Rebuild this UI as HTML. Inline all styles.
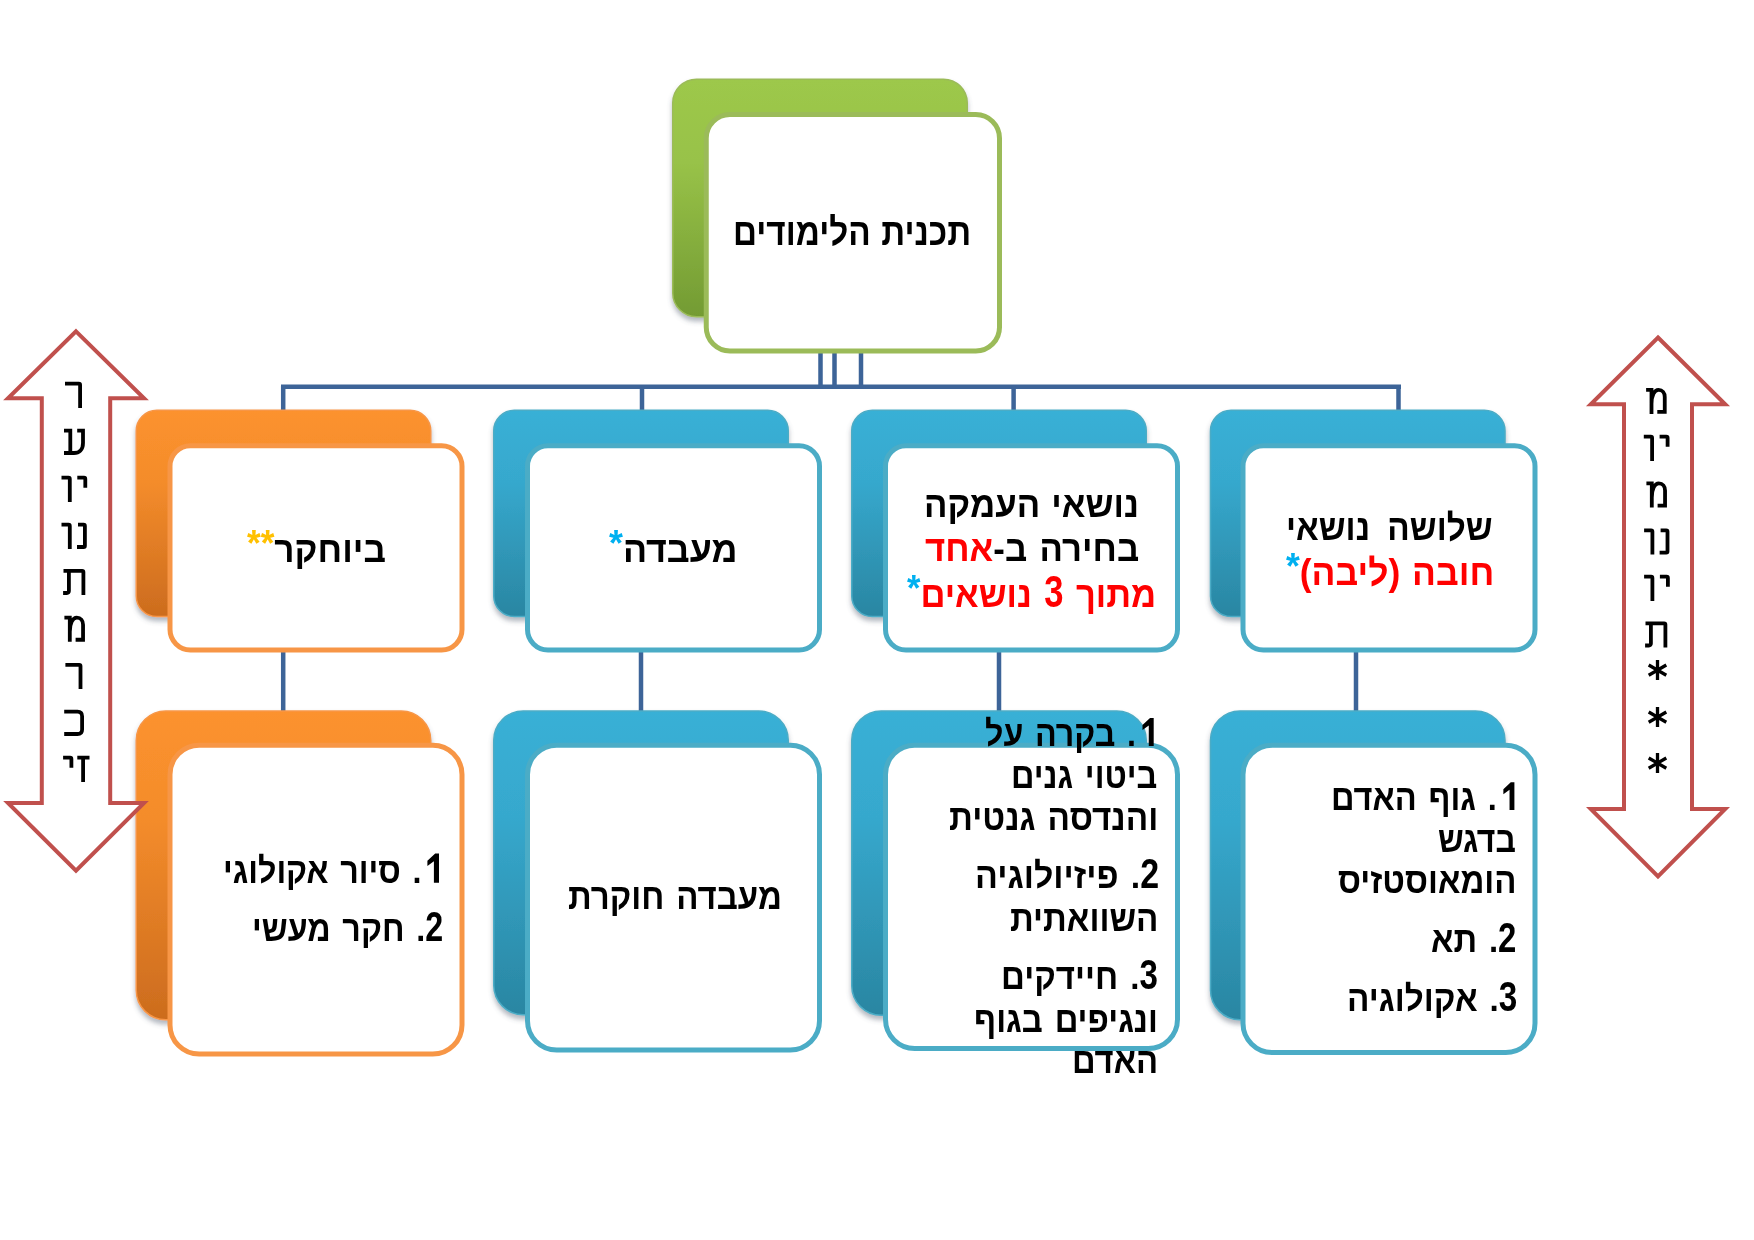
<!DOCTYPE html><html lang="he"><head><meta charset="utf-8"><title>תכנית הלימודים</title><style>html,body{margin:0;padding:0;background:#fff}
body{width:1754px;height:1240px;position:relative;overflow:hidden;font-family:"Liberation Sans",sans-serif}
.ln{position:absolute;direction:rtl;unicode-bidi:isolate;white-space:pre;color:#000;transform-origin:0 0}
.red{color:#FF0000}.lb{color:#00B0F0}.yl{color:#FFC000}.up{position:relative;top:-6px}.dg{display:inline-block;line-height:0.693em;transform-origin:50% 100%;transform:scaleY(1.19)}.one{color:transparent}</style></head><body>
<svg width="1754" height="1240" viewBox="0 0 1754 1240" style="position:absolute;left:0;top:0">
<defs>
<linearGradient id="gG" x1="0" y1="0" x2="0" y2="1"><stop offset="0" stop-color="#9DC84B"/><stop offset="0.35" stop-color="#98C248"/><stop offset="1" stop-color="#739B33"/></linearGradient>
<linearGradient id="gO" x1="0" y1="0" x2="0" y2="1"><stop offset="0" stop-color="#FC922E"/><stop offset="0.35" stop-color="#F48C2B"/><stop offset="1" stop-color="#CC6C1E"/></linearGradient>
<linearGradient id="gB" x1="0" y1="0" x2="0" y2="1"><stop offset="0" stop-color="#39B0D6"/><stop offset="0.35" stop-color="#36A8CD"/><stop offset="1" stop-color="#2A86A2"/></linearGradient>
<filter id="sh" x="-20%" y="-20%" width="140%" height="140%"><feGaussianBlur in="SourceAlpha" stdDeviation="2.8"/><feOffset dx="-0.5" dy="3.5" result="o"/><feFlood flood-color="#4a5568" flood-opacity="0.42"/><feComposite in2="o" operator="in"/><feMerge><feMergeNode/><feMergeNode in="SourceGraphic"/></feMerge></filter>
</defs>
<rect x="281.00" y="384.50" width="1120.00" height="4.5" fill="#3D6498"/>
<rect x="818.25" y="350.00" width="4.5" height="39.00" fill="#3D6498"/>
<rect x="832.25" y="350.00" width="4.5" height="39.00" fill="#3D6498"/>
<rect x="858.75" y="350.00" width="4.5" height="39.00" fill="#3D6498"/>
<rect x="280.95" y="386.00" width="4.5" height="26.00" fill="#3D6498"/>
<rect x="639.75" y="386.00" width="4.5" height="26.00" fill="#3D6498"/>
<rect x="1011.35" y="386.00" width="4.5" height="26.00" fill="#3D6498"/>
<rect x="1396.25" y="386.00" width="4.5" height="26.00" fill="#3D6498"/>
<rect x="280.95" y="650.00" width="4.5" height="62.00" fill="#3D6498"/>
<rect x="638.75" y="650.00" width="4.5" height="62.00" fill="#3D6498"/>
<rect x="996.75" y="650.00" width="4.5" height="62.00" fill="#3D6498"/>
<rect x="1353.75" y="650.00" width="4.5" height="62.00" fill="#3D6498"/>
<rect x="672.75" y="79.15" width="294.50" height="237.60" rx="23.8" fill="url(#gG)" stroke="#9BBB59" stroke-width="1.5" filter="url(#sh)"/>
<rect x="706.25" y="114.50" width="293.25" height="236.50" rx="23.7" fill="#fff" stroke="#9BBB59" stroke-width="5"/>
<rect x="136.25" y="410.35" width="294.50" height="206.20" rx="20.6" fill="url(#gO)" stroke="#F79646" stroke-width="1.5" filter="url(#sh)"/>
<rect x="170.00" y="445.75" width="292.00" height="204.25" rx="20.4" fill="#fff" stroke="#F79646" stroke-width="5"/>
<rect x="493.75" y="410.35" width="294.50" height="206.20" rx="20.6" fill="url(#gB)" stroke="#4BACC6" stroke-width="1.5" filter="url(#sh)"/>
<rect x="527.50" y="445.75" width="292.00" height="204.25" rx="20.4" fill="#fff" stroke="#4BACC6" stroke-width="5"/>
<rect x="851.75" y="410.35" width="294.50" height="206.20" rx="20.6" fill="url(#gB)" stroke="#4BACC6" stroke-width="1.5" filter="url(#sh)"/>
<rect x="885.50" y="445.75" width="292.00" height="204.25" rx="20.4" fill="#fff" stroke="#4BACC6" stroke-width="5"/>
<rect x="1210.50" y="410.35" width="294.50" height="206.20" rx="20.6" fill="url(#gB)" stroke="#4BACC6" stroke-width="1.5" filter="url(#sh)"/>
<rect x="1243.00" y="445.75" width="292.00" height="204.25" rx="20.4" fill="#fff" stroke="#4BACC6" stroke-width="5"/>
<rect x="136.25" y="710.95" width="294.50" height="308.80" rx="29.5" fill="url(#gO)" stroke="#F79646" stroke-width="1.5" filter="url(#sh)"/>
<rect x="170.00" y="745.30" width="292.00" height="308.80" rx="29.2" fill="#fff" stroke="#F79646" stroke-width="5"/>
<rect x="493.75" y="710.95" width="294.50" height="303.80" rx="29.5" fill="url(#gB)" stroke="#4BACC6" stroke-width="1.5" filter="url(#sh)"/>
<rect x="527.50" y="745.30" width="292.00" height="304.70" rx="29.2" fill="#fff" stroke="#4BACC6" stroke-width="5"/>
<rect x="851.75" y="710.95" width="294.50" height="304.30" rx="29.5" fill="url(#gB)" stroke="#4BACC6" stroke-width="1.5" filter="url(#sh)"/>
<rect x="885.50" y="745.30" width="292.00" height="303.20" rx="29.2" fill="#fff" stroke="#4BACC6" stroke-width="5"/>
<rect x="1210.50" y="710.95" width="294.50" height="308.80" rx="29.5" fill="url(#gB)" stroke="#4BACC6" stroke-width="1.5" filter="url(#sh)"/>
<rect x="1243.00" y="745.30" width="292.00" height="307.20" rx="29.2" fill="#fff" stroke="#4BACC6" stroke-width="5"/>
<polygon points="76.00,331.40 144.00,398.20 110.20,398.20 110.20,802.90 144.00,802.90 76.00,870.70 8.00,802.90 41.80,802.90 41.80,398.20 8.00,398.20" fill="#fff" stroke="#C0504D" stroke-width="4" stroke-linejoin="miter" stroke-miterlimit="10"/>
<polygon points="1658.00,337.50 1725.20,404.30 1692.00,404.30 1692.00,808.90 1725.20,808.90 1658.00,876.50 1590.80,808.90 1624.00,808.90 1624.00,404.30 1590.80,404.30" fill="#fff" stroke="#C0504D" stroke-width="4" stroke-linejoin="miter" stroke-miterlimit="10"/>
<path d="M1657.50 660.10V680.10M1648.70 665.00L1666.30 675.20M1666.30 665.00L1648.70 675.20" stroke="#000" stroke-width="3.3" fill="none"/>
<path d="M1657.50 707.10V727.10M1648.70 712.00L1666.30 722.20M1666.30 712.00L1648.70 722.20" stroke="#000" stroke-width="3.3" fill="none"/>
<path d="M1657.50 753.10V773.10M1648.70 758.00L1666.30 768.20M1666.30 758.00L1648.70 768.20" stroke="#000" stroke-width="3.3" fill="none"/>
<path transform="translate(65.0,407.9)" d="M0,-24.3H13.8Q15.1,-24.3 15.1,-23V0" stroke="#000" stroke-width="3.8" fill="none"/>
<path transform="translate(64.0,454.9)" d="M0,-24.2H6.3V-1.9M0,-1.9H10C15,-1.9 19,-5 19,-12V-24.2H13.2" stroke="#000" stroke-width="3.8" fill="none"/>
<path transform="translate(61.5,501.9)" d="M0,-24.2H7Q8.3,-24.2 8.3,-22.9V0M15.8,-24.2H22.5Q23.8,-24.2 23.8,-22.9V-14.2" stroke="#000" stroke-width="3.8" fill="none"/>
<path transform="translate(61.5,548.9)" d="M0,-24.2H7Q8.3,-24.2 8.3,-22.9V0M16.5,-24.2H22.1Q23.4,-24.2 23.4,-22.9V-3.2Q23.4,-1.9 22.1,-1.9H15.5" stroke="#000" stroke-width="3.8" fill="none"/>
<path transform="translate(63.1,595.1)" d="M0.4,-24.3H19Q20.3,-24.3 20.3,-23V0M5.8,-24.3V-4.1Q5.8,-2.1 3.8,-2.1H0" stroke="#000" stroke-width="3.8" fill="none"/>
<path transform="translate(64.4,641.7)" d="M0,-24.1H5.4V0M5.4,-10C5.4,-19 8.4,-24.05 12.4,-24.05C16.4,-24.05 18.65,-21 18.65,-17V-1.95H11.2" stroke="#000" stroke-width="3.8" fill="none"/>
<path transform="translate(65.4,689.1)" d="M0,-24.3H13.8Q15.1,-24.3 15.1,-23V0" stroke="#000" stroke-width="3.8" fill="none"/>
<path transform="translate(64.2,735.9)" d="M0,-24.2H13.3Q17.9,-24.2 17.9,-19.6V-6.5Q17.9,-1.9 13.3,-1.9H0" stroke="#000" stroke-width="3.8" fill="none"/>
<path transform="translate(63.1,781.9)" d="M0,-24.2H7Q8.3,-24.2 8.3,-22.9V-14.1M14.2,-24.2H26.4M20,-24.2V0" stroke="#000" stroke-width="3.8" fill="none"/>
<path transform="translate(1646.1,413.9)" d="M0,-24.1H5.4V0M5.4,-10C5.4,-19 8.4,-24.05 12.4,-24.05C16.4,-24.05 18.65,-21 18.65,-17V-1.95H11.2" stroke="#000" stroke-width="3.8" fill="none"/>
<path transform="translate(1643.8,460.9)" d="M0,-24.2H7Q8.3,-24.2 8.3,-22.9V0M15.8,-24.2H22.5Q23.8,-24.2 23.8,-22.9V-14.2" stroke="#000" stroke-width="3.8" fill="none"/>
<path transform="translate(1646.4,507.5)" d="M0,-24.1H5.4V0M5.4,-10C5.4,-19 8.4,-24.05 12.4,-24.05C16.4,-24.05 18.65,-21 18.65,-17V-1.95H11.2" stroke="#000" stroke-width="3.8" fill="none"/>
<path transform="translate(1644.1,554.5)" d="M0,-24.2H7Q8.3,-24.2 8.3,-22.9V0M16.5,-24.2H22.1Q23.4,-24.2 23.4,-22.9V-3.2Q23.4,-1.9 22.1,-1.9H15.5" stroke="#000" stroke-width="3.8" fill="none"/>
<path transform="translate(1644.1,600.9)" d="M0,-24.2H7Q8.3,-24.2 8.3,-22.9V0M15.8,-24.2H22.5Q23.8,-24.2 23.8,-22.9V-14.2" stroke="#000" stroke-width="3.8" fill="none"/>
<path transform="translate(1645.1,647.6)" d="M0.4,-24.3H19Q20.3,-24.3 20.3,-23V0M5.8,-24.3V-4.1Q5.8,-2.1 3.8,-2.1H0" stroke="#000" stroke-width="3.8" fill="none"/>
</svg>
<div class="ln" style="left:733.47px;top:210.2px;font-size:37.95px;line-height:45.54px;font-weight:700;word-spacing:1.5px;transform:scaleX(0.8767)">תכנית הלימודים</div>
<div class="ln" style="left:246.5px;top:527.1px;font-size:37.1px;line-height:44.52px;font-weight:700;word-spacing:3px;transform:scaleX(0.9479)">ביוחקר<span class="yl up">**</span></div>
<div class="ln" style="left:609.4px;top:527.1px;font-size:37.1px;line-height:44.52px;font-weight:700;word-spacing:3px;transform:scaleX(0.9649)">מעבדה<span class="lb up">*</span></div>
<div class="ln" style="left:924.02px;top:481.8px;font-size:37.1px;line-height:44.52px;font-weight:700;word-spacing:1.5px;transform:scaleX(0.9378)">נושאי העמקה</div>
<div class="ln" style="left:925.2px;top:526.2px;font-size:37.1px;line-height:44.52px;font-weight:700;word-spacing:3px;transform:scaleX(0.9377)">בחירה ב-<span class="red">אחד</span></div>
<div class="ln" style="left:906.7px;top:571.7px;font-size:37.1px;line-height:44.52px;font-weight:700;word-spacing:3px;transform:scaleX(0.9325)"><span class="red">מתוך <span class="dg">3</span> נושאים</span><span class="lb up">*</span></div>
<div class="ln" style="left:1285.7px;top:504.5px;font-size:37.1px;line-height:44.52px;font-weight:700;word-spacing:9px;transform:scaleX(0.8982)">שלושה נושאי</div>
<div class="ln" style="left:1286.1px;top:549.6px;font-size:37.1px;line-height:44.52px;font-weight:700;word-spacing:2px;transform:scaleX(0.9563)"><span class="red">חובה (ליבה)</span><span class="lb up">*</span></div>
<div class="ln" style="left:223.08px;top:849.7px;font-size:35.5px;line-height:42.60px;font-weight:700;word-spacing:3px;transform:scaleX(0.9089)"><span class="dg one">1</span>. סיור אקולוגי</div>
<div class="ln" style="left:252.18px;top:908.0px;font-size:35.5px;line-height:42.60px;font-weight:700;word-spacing:3px;transform:scaleX(0.9077)"><span class="dg">2</span>. חקר מעשי</div>
<div class="ln" style="left:567.6px;top:875.0px;font-size:36.1px;line-height:43.32px;font-weight:700;word-spacing:3px;transform:scaleX(0.9142)">מעבדה חוקרת</div>
<div class="ln" style="left:985.29px;top:713.1px;font-size:35.6px;line-height:42.72px;font-weight:700;word-spacing:3px;transform:scaleX(0.9054)"><span class="dg one">1</span>. בקרה על</div>
<div class="ln" style="left:1010.97px;top:755.0px;font-size:35.6px;line-height:42.72px;font-weight:700;word-spacing:3px;transform:scaleX(0.9127)">ביטוי גנים</div>
<div class="ln" style="left:948.9px;top:797.0px;font-size:35.6px;line-height:42.72px;font-weight:700;word-spacing:3px;transform:scaleX(0.9357)">והנדסה גנטית</div>
<div class="ln" style="left:974.59px;top:855.3px;font-size:35.6px;line-height:42.72px;font-weight:700;word-spacing:3px;transform:scaleX(0.9532)"><span class="dg">2</span>. פיזיולוגיה</div>
<div class="ln" style="left:1009.7px;top:898.4px;font-size:35.6px;line-height:42.72px;font-weight:700;word-spacing:3px;transform:scaleX(0.9306)">השוואתית</div>
<div class="ln" style="left:1001.04px;top:955.6px;font-size:35.6px;line-height:42.72px;font-weight:700;word-spacing:3px;transform:scaleX(0.9301)"><span class="dg">3</span>. חיידקים</div>
<div class="ln" style="left:973.76px;top:998.7px;font-size:35.6px;line-height:42.72px;font-weight:700;word-spacing:3px;transform:scaleX(0.9221)">ונגיפים בגוף</div>
<div class="ln" style="left:1071.66px;top:1040.3px;font-size:35.6px;line-height:42.72px;font-weight:700;word-spacing:3px;transform:scaleX(0.9202)">האדם</div>
<div class="ln" style="left:1330.97px;top:777.1px;font-size:35.5px;line-height:42.60px;font-weight:700;word-spacing:3px;transform:scaleX(0.9172)"><span class="dg one">1</span>. גוף האדם</div>
<div class="ln" style="left:1437.6px;top:819.3px;font-size:35.5px;line-height:42.60px;font-weight:700;word-spacing:3px;transform:scaleX(0.9)">בדגש</div>
<div class="ln" style="left:1338.1px;top:860.4px;font-size:35.5px;line-height:42.60px;font-weight:700;word-spacing:3px;transform:scaleX(0.9279)">הומאוסטזיס</div>
<div class="ln" style="left:1431.17px;top:919.0px;font-size:35.5px;line-height:42.60px;font-weight:700;word-spacing:3px;transform:scaleX(0.9264)"><span class="dg">2</span>. תא</div>
<div class="ln" style="left:1346.93px;top:977.6px;font-size:35.5px;line-height:42.60px;font-weight:700;word-spacing:3px;transform:scaleX(0.9363)"><span class="dg">3</span>. אקולוגיה</div>
<svg width="1754" height="1240" style="position:absolute;left:0;top:0;pointer-events:none"><polygon points="439.00,853.50 439.00,882.70 433.90,882.70 433.90,861.30 427.40,866.00 427.40,860.80 435.20,853.50" fill="#000"/><polygon points="1153.70,717.90 1153.70,746.10 1148.77,746.10 1148.77,725.43 1142.50,729.97 1142.50,724.95 1150.03,717.90" fill="#000"/><polygon points="1514.40,782.30 1514.40,810.10 1509.54,810.10 1509.54,789.73 1503.36,794.20 1503.36,789.25 1510.78,782.30" fill="#000"/></svg>
</body></html>
